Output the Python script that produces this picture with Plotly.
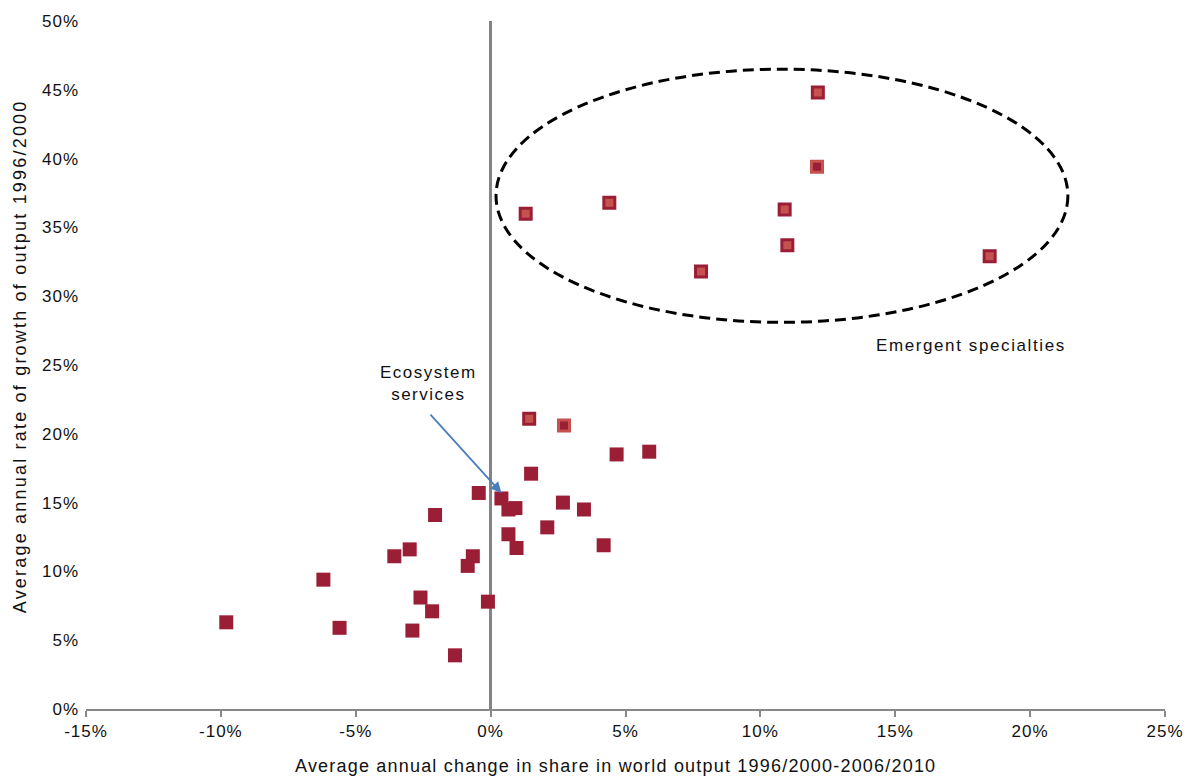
import plotly.graph_objects as go

# Sector-level output: change in world share (x, %) vs. growth rate of output (y, %)
base_x = [-9.8, -6.2, -5.6, -3.57, -3.0, -2.9, -2.6, -2.17, -2.06, -1.32,
          -0.85, -0.66, -0.44, -0.1, 0.4, 0.66, 0.92, 0.66, 0.96, 1.5,
          2.1, 2.68, 3.46, 4.19, 4.67, 5.88]
base_y = [6.3, 9.4, 5.9, 11.1, 11.6, 5.7, 8.1, 7.1, 14.1, 3.9,
          10.4, 11.1, 15.7, 7.8, 15.3, 14.5, 14.6, 12.7, 11.7, 17.1,
          13.2, 15.0, 14.5, 11.9, 18.5, 18.7]

# Outlined markers (dark border, light fill)
outl_x = [12.13, 10.9, 11.0, 4.4, 1.3, 7.8, 18.5, 1.43]
outl_y = [44.8, 36.3, 33.7, 36.8, 36.0, 31.8, 32.9, 21.1]

# Inverted markers (light border, dark fill)
inv_x = [12.1, 2.72]
inv_y = [39.4, 20.6]

x_ticks = [-15, -10, -5, 0, 5, 10, 15, 20, 25]
y_ticks = [0, 5, 10, 15, 20, 25, 30, 35, 40, 45, 50]

DARK = "#9B1E37"
LIGHT = "#C5524F"
FONT = "Liberation Sans, Arial, sans-serif"


def spaced(t, s=1.2):
    return f'<span style="letter-spacing:{s}px">{t}</span>'


fig = go.Figure()
fig.add_trace(go.Scatter(
    x=base_x, y=base_y, mode="markers",
    marker=dict(symbol="square", size=14, color=DARK, line=dict(width=0)),
    hoverinfo="x+y", showlegend=False))
fig.add_trace(go.Scatter(
    x=outl_x, y=outl_y, mode="markers",
    marker=dict(symbol="square", size=11, color=LIGHT, line=dict(width=3, color=DARK)),
    showlegend=False))
fig.add_trace(go.Scatter(
    x=inv_x, y=inv_y, mode="markers",
    marker=dict(symbol="square", size=11, color=DARK, line=dict(width=3, color=LIGHT)),
    showlegend=False))

# Dashed ellipse around the emergent group
fig.add_shape(type="circle", xref="x", yref="y",
              x0=0.2, x1=21.4, y0=28.1, y1=46.5,
              line=dict(color="black", width=3, dash="11px,6px"))

fig.add_annotation(x=17.8, y=26.4, xref="x", yref="y", showarrow=False,
                   text=spaced("Emergent specialties", 1.6),
                   font=dict(family=FONT, size=17, color="#111"))
fig.add_annotation(x=0.4, y=15.7, xref="x", yref="y",
                   ax=-2.28, ay=21.5, axref="x", ayref="y",
                   showarrow=True, arrowhead=2, arrowsize=1.2, arrowwidth=1.8,
                   arrowcolor="#4A7EBB", text="")
fig.add_annotation(x=-2.3, y=23.65, xref="x", yref="y", showarrow=False,
                   text=spaced("Ecosystem", 1.5) + "<br>" + spaced("services", 1.5),
                   font=dict(family=FONT, size=17, color="#111"))

# Axis titles
fig.add_annotation(x=0.491, y=-0.083, xref="paper", yref="paper", showarrow=False,
                   xanchor="center", yanchor="middle",
                   text=spaced("Average annual change in share in world output 1996/2000-2006/2010", 1.2),
                   font=dict(family=FONT, size=18, color="#111"))
fig.add_annotation(x=-0.061, y=0.513, xref="paper", yref="paper", showarrow=False,
                   xanchor="center", yanchor="middle", textangle=-90,
                   text=spaced("Average annual rate of growth of output 1996/2000", 2.2),
                   font=dict(family=FONT, size=18, color="#111"))

fig.update_layout(
    width=1196, height=781,
    margin=dict(l=86, r=21, t=18, b=72),
    paper_bgcolor="white", plot_bgcolor="white",
    font=dict(family=FONT, size=17, color="#111"),
    xaxis=dict(range=[-15, 25], tickvals=x_ticks,
               ticktext=[spaced(f"{v}%", 1.0) for v in x_ticks],
               showgrid=False, zeroline=True, zerolinecolor="#848484", zerolinewidth=2.5,
               showline=True, linecolor="#888888", linewidth=2,
               ticks="outside", ticklen=6, tickwidth=2, tickcolor="#888888",
               tickfont=dict(family=FONT, size=17, color="#111")),
    yaxis=dict(range=[0, 50], tickvals=y_ticks,
               ticktext=[spaced(f"{v}%", 1.0) for v in y_ticks],
               showgrid=False, zeroline=False, showline=False, ticks="",
               ticklabelstandoff=6,
               tickfont=dict(family=FONT, size=17, color="#111")),
)

fig.write_html("out.html")
